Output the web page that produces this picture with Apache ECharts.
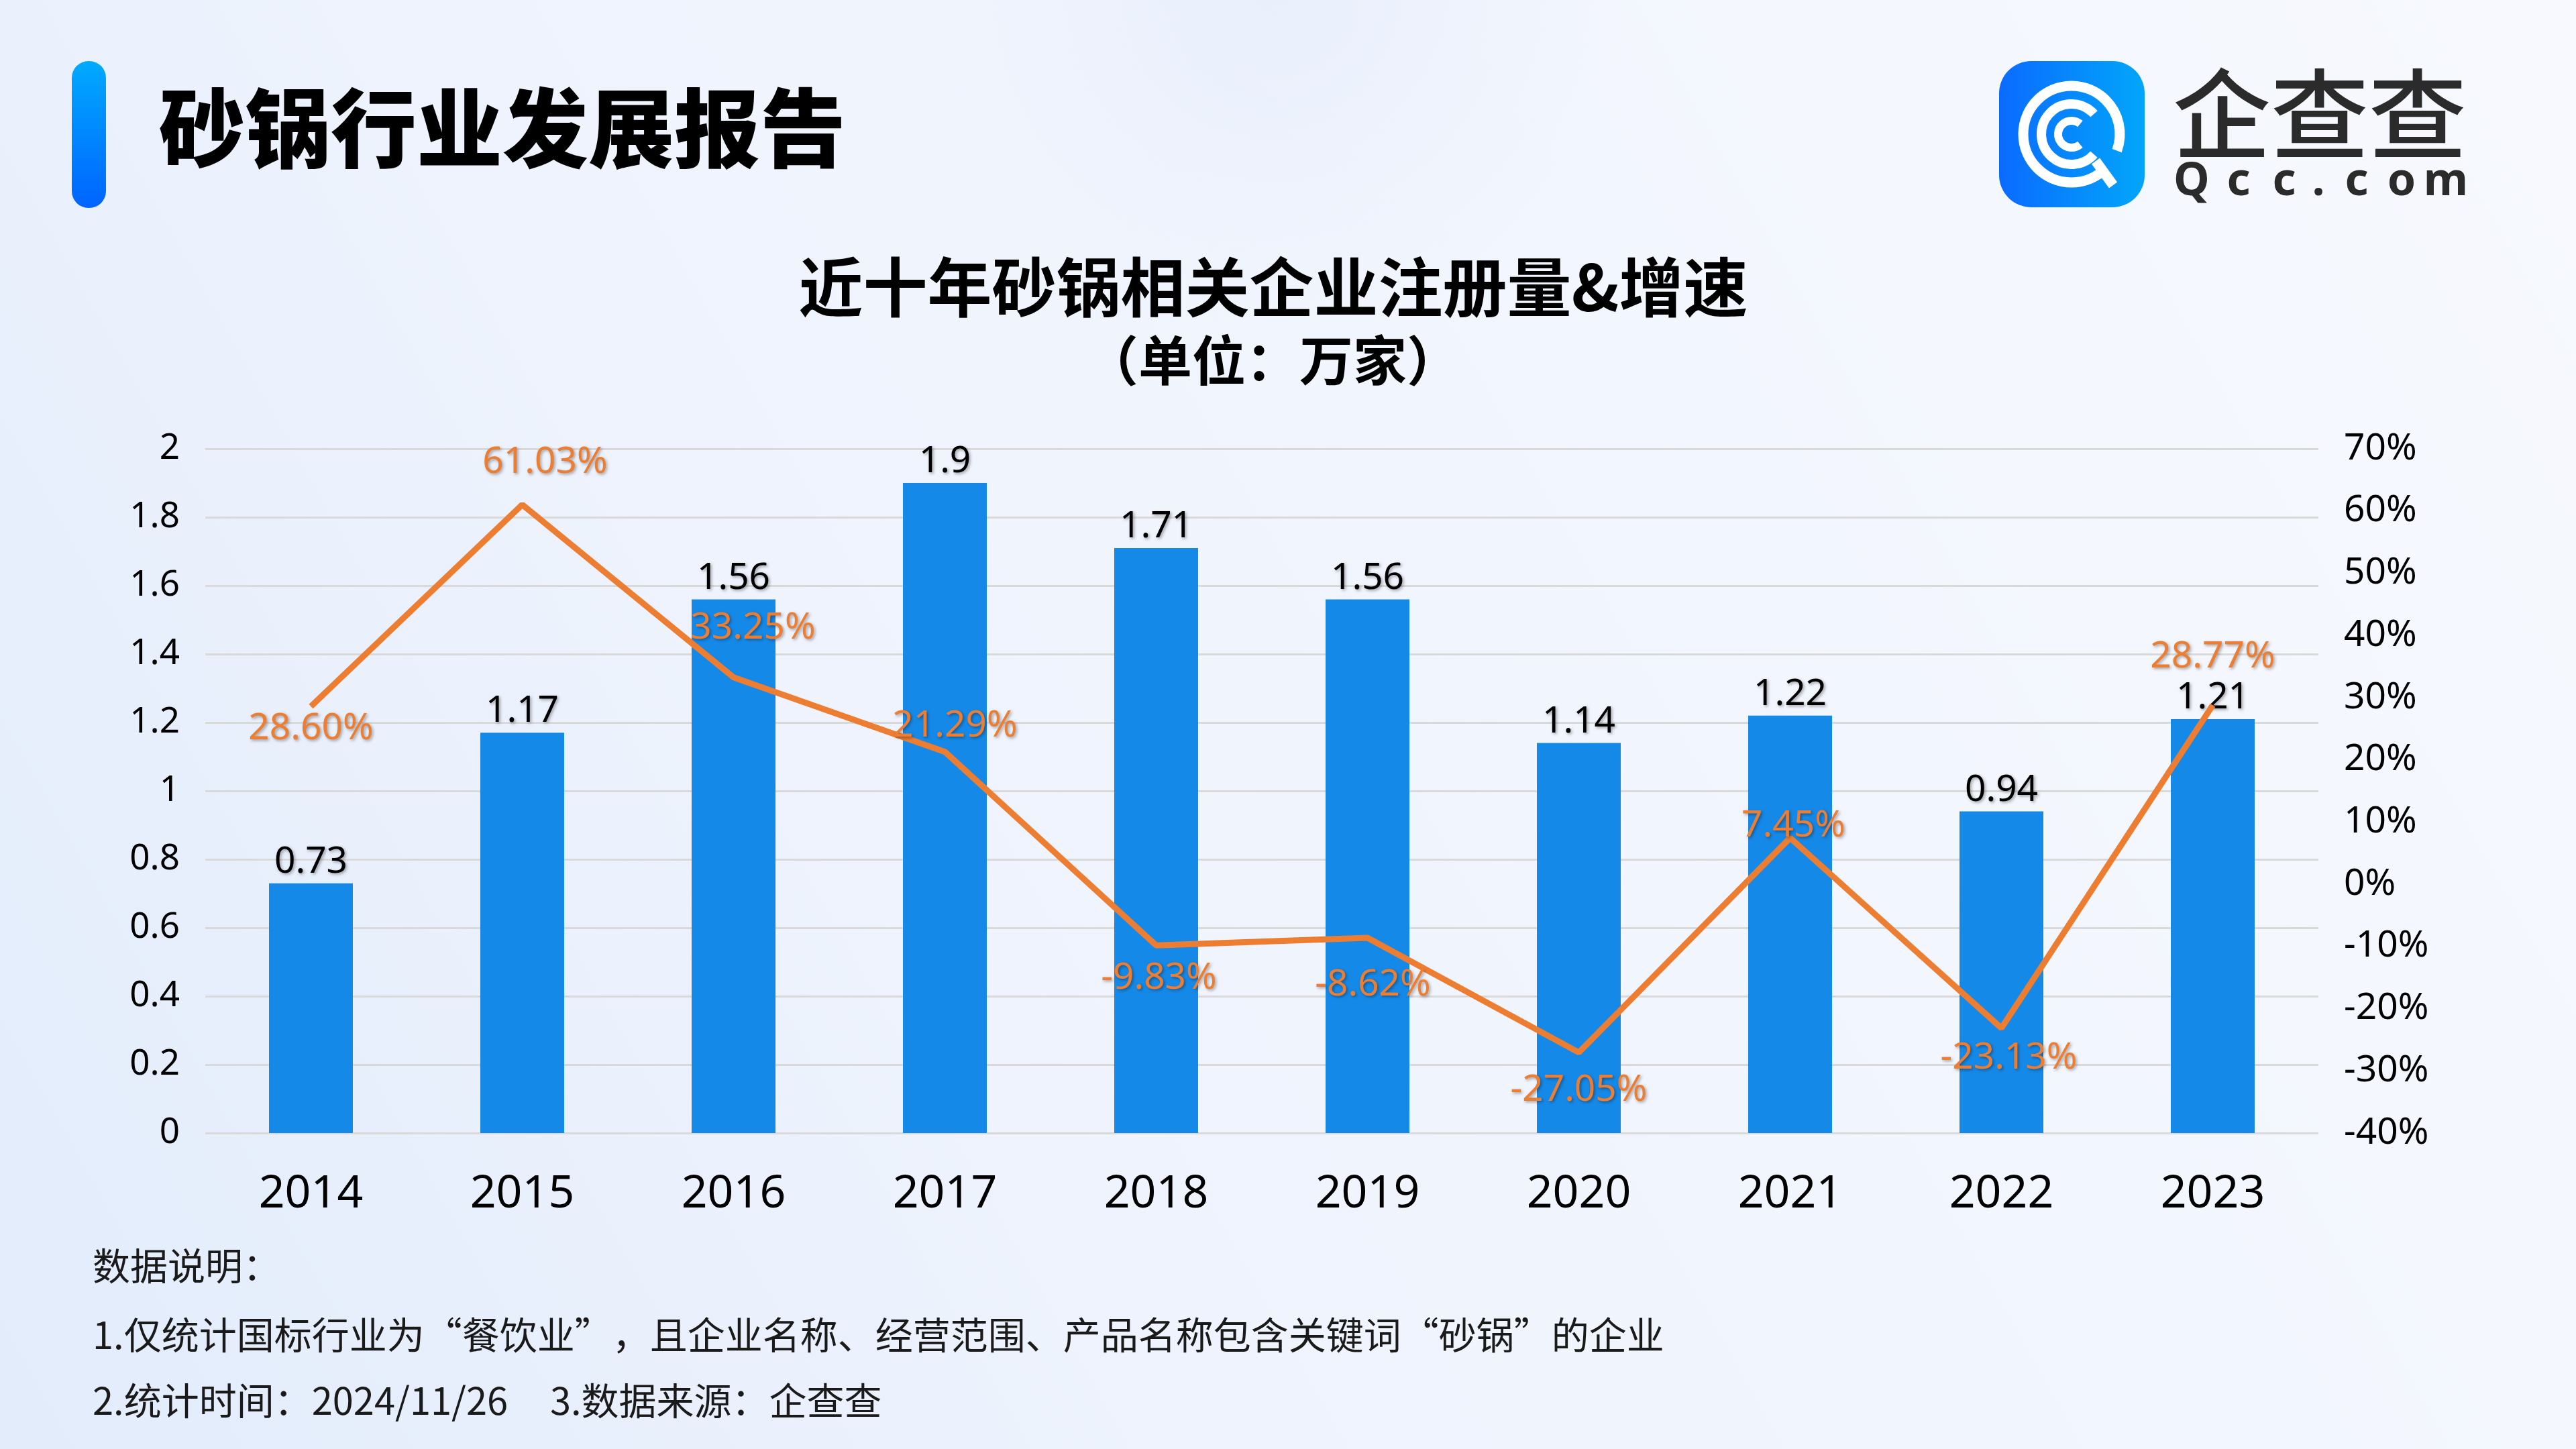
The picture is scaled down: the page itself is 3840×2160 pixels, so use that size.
<!DOCTYPE html>
<html>
<head>
<meta charset="utf-8">
<script src="https://cdn.jsdelivr.net/npm/echarts@6/dist/echarts.min.js"></script>
<style>
html,body{margin:0;padding:0;width:3840px;height:2160px;overflow:hidden;background:#eef3fd;}
#chart{width:3840px;height:2160px;}
</style>
</head>
<body>
<div id="chart"></div>
<script>
// ---- data ----
var years = ['2014','2015','2016','2017','2018','2019','2020','2021','2022','2023'];
var registrations = [0.73, 1.17, 1.56, 1.9, 1.71, 1.56, 1.14, 1.22, 0.94, 1.21]; // 万家
var growthRates = [28.60, 61.03, 33.25, 21.29, -9.83, -8.62, -27.05, 7.45, -23.13, 28.77]; // %
var headerTitle = '砂锅行业发展报告';
var chartTitle = '近十年砂锅相关企业注册量&增速';
var chartSubtitle = '（单位：万家）';
var notes = [
  '数据说明：',
  '1.仅统计国标行业为“餐饮业”，且企业名称、经营范围、产品名称包含关键词“砂锅”的企业',
  '2.统计时间：2024/11/26     3.数据来源：企查查'
];
var logoText = '企查查';
var logoDomain = ['Q','c','c','.','c','o','m'];

// ---- layout (label placement relative to points) ----
var lineLabelOffsets = [[0,33],[34,-63],[29,-73],[15,-38],[4,49],[8,70],[0,56],[5,-18],[11,45],[0,-72]];

var CJK = '"Noto Sans CJK SC", "Noto Sans", sans-serif';
var LAT = '"Noto Sans", "Noto Sans CJK SC", sans-serif';
var shadow = {textShadowColor:'rgba(0,0,0,0.35)', textShadowBlur:4, textShadowOffsetX:2, textShadowOffsetY:2};

var chart = echarts.init(document.getElementById('chart'), null, {renderer:'canvas'});

var domainX = [3267,3337,3405,3456,3513,3580,3646];
var graphics = [
  {type:'rect', z:-10, silent:true, shape:{x:0,y:0,width:3840,height:2160},
   style:{fill:new echarts.graphic.LinearGradient(0,1,1,0,[
     {offset:0,color:'#e2ecfb'},{offset:0.35,color:'#eef3fd'},{offset:1,color:'#f7f9fe'}])}},
  {type:'circle', z:-9, silent:true, shape:{cx:1900,cy:-20,r:520},
   style:{fill:new echarts.graphic.RadialGradient(0.5,0.5,0.5,[
     {offset:0,color:'rgba(226,234,250,0.55)'},{offset:1,color:'rgba(226,234,250,0)'}])}},
  // header accent bar
  {type:'rect', shape:{x:107,y:91,width:51,height:219,r:25},
   style:{fill:new echarts.graphic.LinearGradient(0,0,0,1,[
     {offset:0,color:'#00aaff'},{offset:1,color:'#0064ff'}])}},
  {type:'text', style:{text:headerTitle, x:237, y:191, verticalAlign:'middle', font:'900 128px '+CJK, fill:'#000'}},
  // chart title
  {type:'text', style:{text:chartTitle, x:1898, y:428, align:'center', verticalAlign:'middle', font:'bold 96px '+CJK, fill:'#000'}},
  {type:'text', style:{text:chartSubtitle, x:1897, y:537, align:'center', verticalAlign:'middle', font:'bold 80px '+CJK, fill:'#000'}},
  // notes
  {type:'text', style:{text:notes[0], x:138, y:1887, verticalAlign:'middle', font:'56px '+CJK, fill:'#1a1a1a'}},
  {type:'text', style:{text:notes[1], x:138, y:1990, verticalAlign:'middle', font:'56px '+CJK, fill:'#1a1a1a'}},
  {type:'text', style:{text:notes[2], x:138, y:2088, verticalAlign:'middle', font:'56px '+CJK, fill:'#1a1a1a'}},
  // logo icon
  {type:'rect', shape:{x:2980,y:91,width:217,height:218,r:48},
   style:{fill:new echarts.graphic.LinearGradient(0,0,1,0,[
     {offset:0,color:'#0a6bff'},{offset:1,color:'#02a6fa'}])}},
  {type:'arc', shape:{cx:3088,cy:200,r:72,startAngle:45*Math.PI/180,endAngle:380*Math.PI/180,clockwise:true},
   style:{stroke:'#fff',lineWidth:15,fill:null}},
  {type:'line', shape:{x1:3124,y1:240,x2:3150,y2:276}, style:{stroke:'#fff',lineWidth:15}},
  {type:'arc', shape:{cx:3088,cy:200,r:45,startAngle:42*Math.PI/180,endAngle:318*Math.PI/180,clockwise:true},
   style:{stroke:'#fff',lineWidth:14,fill:null}},
  {type:'arc', shape:{cx:3088,cy:200,r:20,startAngle:50*Math.PI/180,endAngle:310*Math.PI/180,clockwise:true},
   style:{stroke:'#fff',lineWidth:12,fill:null}},
  {type:'text', style:{text:logoText, x:3458, y:170, align:'center', verticalAlign:'middle', font:'500 146px '+CJK, fill:'#2b2b2b'}}
];
logoDomain.forEach(function(ch, i){
  graphics.push({type:'text', style:{text:ch, x:domainX[i], y:272, align:'center', verticalAlign:'middle', font:'bold 68px '+LAT, fill:'#2b2b2b'}});
});

var option = {
  animation:false,
  graphic: graphics,
  grid:{left:306, right:384, top:669, bottom:471, containLabel:false},
  xAxis:{
    type:'category', data:years,
    axisLine:{show:false}, axisTick:{show:false},
    axisLabel:{fontSize:68, color:'#000', margin:58, fontFamily:LAT}
  },
  yAxis:[
    {type:'value', min:0, max:2, interval:0.2,
     axisLine:{show:false}, axisTick:{show:false},
     splitLine:{lineStyle:{color:'#d9d9d9', width:3}},
     axisLabel:{fontSize:53, color:'#000', margin:38, fontFamily:LAT}},
    {type:'value', min:-40, max:70, interval:10, position:'right',
     axisLine:{show:false}, axisTick:{show:false}, splitLine:{show:false},
     axisLabel:{fontSize:55, color:'#000', margin:38, fontFamily:LAT, formatter:'{value}%'}}
  ],
  series:[
    {type:'bar', data:registrations, barWidth:125, yAxisIndex:0,
     itemStyle:{color:'#1589e8'},
     label:Object.assign({show:true, position:'top', distance:4, fontSize:55, color:'#000', fontFamily:LAT}, shadow)},
    {type:'line', yAxisIndex:1, z:5,
     data:growthRates.map(function(v,i){ return {value:v, label:{offset:lineLabelOffsets[i]}}; }),
     symbol:'circle', symbolSize:1, showSymbol:true,
     lineStyle:{color:'#ed7d31', width:9}, itemStyle:{color:'#ed7d31'},
     label:Object.assign({show:true, position:'inside', fontSize:55, color:'#ed7d31', fontFamily:LAT,
       formatter:function(p){ return p.value.toFixed(2)+'%'; }}, shadow)}
  ]
};
chart.setOption(option);
</script>
</body>
</html>
